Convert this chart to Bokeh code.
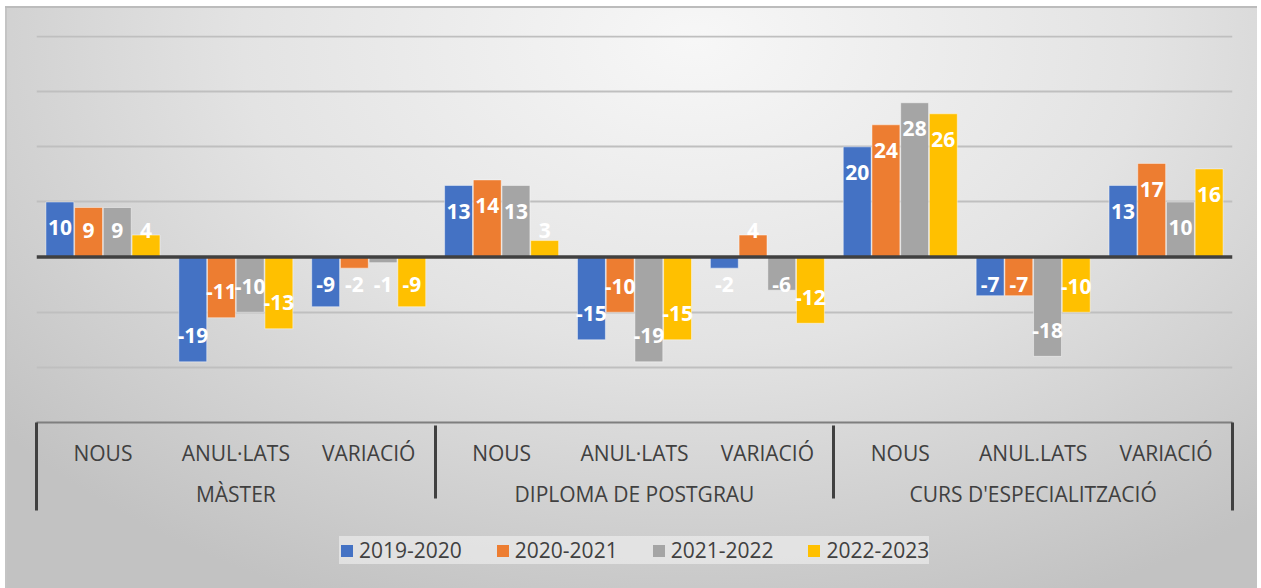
from bokeh.plotting import figure
from bokeh.layouts import column
from bokeh.models import (FactorRange, Span, Legend, LegendItem, ColumnDataSource,
                          CategoricalAxis, Range1d, FixedTicker)
from bokeh.transform import dodge
from bokeh.core.properties import value
from bokeh.embed import file_html
from bokeh.resources import INLINE

# ---- data ----
groups = ["MÀSTER", "DIPLOMA DE POSTGRAU", "CURS D'ESPECIALITZACIÓ"]
subcats = [["NOUS", "ANUL·LATS", "VARIACIÓ"],
           ["NOUS", "ANUL·LATS", "VARIACIÓ"],
           ["NOUS", "ANUL.LATS", "VARIACIÓ"]]
years = ["2019-2020", "2020-2021", "2021-2022", "2022-2023"]
v_2019_2020 = [10, -19, -9, 13, -15, -2, 20, -7, 13]
v_2020_2021 = [9, -11, -2, 14, -10, 4, 24, -7, 17]
v_2021_2022 = [9, -10, -1, 13, -19, -6, 28, -18, 10]
v_2022_2023 = [4, -13, -9, 3, -15, -12, 26, -10, 16]
y_ticks = [-20, -10, 10, 20, 30, 40]

colors = ["#4472C4", "#ED7D31", "#A5A5A5", "#FFC000"]
series = [v_2019_2020, v_2020_2021, v_2021_2022, v_2022_2023]
offsets = [-0.324, -0.108, 0.108, 0.324]

x = [(g, s) for g, subs in zip(groups, subcats) for s in subs]


def label_pos(v):
    return max(v - 4.7, 4.9) if v > 0 else min(v + 4.7, -5.0)


data = {"x": x}
for yr, vals in zip(years, series):
    data[yr] = vals
    data[yr + "_lab"] = [label_pos(v) for v in vals]
    data[yr + "_txt"] = [str(v) for v in vals]
src = ColumnDataSource(data)

p = figure(x_range=FactorRange(factors=x, group_padding=0, factor_padding=0, range_padding=0),
           y_range=Range1d(-30, 40.2), width=1252, height=512,
           output_backend="svg", toolbar_location=None, y_axis_location=None,
           min_border_left=31, min_border_right=25, min_border_top=29, min_border_bottom=96)

p.border_fill_alpha = 0
p.background_fill_alpha = 0
p.outline_line_color = None

p.xgrid.visible = False
p.ygrid.ticker = FixedTicker(ticks=y_ticks)
p.ygrid.grid_line_color = "#bfbfbf"
p.ygrid.grid_line_width = 2

for yr, c, off in zip(years, colors, offsets):
    p.vbar(x=dodge("x", off, range=p.x_range), top=yr, width=0.21, source=src,
           fill_color=c, line_color="white", line_alpha=0.45, line_width=1)

p.add_layout(Span(location=0, dimension="width", line_color="#404040", line_width=3.5))

for yr, off in zip(years, offsets):
    p.text(x=dodge("x", off, range=p.x_range), y=yr + "_lab", text=yr + "_txt", source=src,
           text_font=value("Open Sans"), text_font_style="bold", text_font_size="21px",
           text_color="white", text_align="center", text_baseline="middle")

ax = p.xaxis[0]
ax.axis_line_color = "#7f7f7f"
ax.axis_line_width = 2
ax.major_tick_line_color = None
ax.major_tick_out = 6
ax.major_tick_in = 0
ax.major_label_standoff = 10
ax.major_label_text_font = "Open Sans"
ax.major_label_text_font_size = "21px"
ax.major_label_text_color = "#404040"
ax.group_text_font = "Open Sans"
ax.group_text_font_size = "21px"
ax.group_text_color = "#404040"
ax.group_text_font_style = "normal"
ax.separator_line_color = "#404040"
ax.separator_line_width = 3

# outer edge lines of the category box: ticks of an auxiliary categorical axis whose
# two factors sit (almost exactly) on the frame edges thanks to a huge factor padding
p.extra_x_ranges = {"edge": FactorRange(factors=["L", "R"], factor_padding=2000)}
edge = CategoricalAxis(x_range_name="edge",
                       major_label_text_font_size="1px", major_label_text_alpha=0,
                       major_label_standoff=0,
                       major_tick_out=0, major_tick_in=88, major_tick_line_color="#404040",
                       major_tick_line_width=3, axis_line_color=None, minor_tick_line_color=None)
p.add_layout(edge, "below")

# legend strip below the chart (zero-size swatch renderers only feed the legend glyphs)
lp = figure(width=1252, height=70, output_backend="svg", toolbar_location=None,
            x_range=Range1d(0, 1), y_range=Range1d(0, 1),
            x_axis_location=None, y_axis_location=None, min_border=0)
lp.border_fill_alpha = 0
lp.background_fill_alpha = 0
lp.outline_line_color = None
lp.grid.visible = False
leg_renderers = [lp.vbar(x=[0.5], top=[0], bottom=0, width=0, fill_color=c, line_color=None)
                 for c in colors]

legend = Legend(items=[LegendItem(label=yr, renderers=[r]) for yr, r in zip(years, leg_renderers)],
                orientation="horizontal", location=(303, 24),
                glyph_width=15, glyph_height=15, label_standoff=5, spacing=33,
                label_text_font="Open Sans", label_text_font_size="21px",
                label_text_color="#404040", padding=9, margin=0,
                background_fill_color="#f2f2f2", background_fill_alpha=0.6,
                border_line_color=None)
lp.add_layout(legend)

layout = column(p, lp, spacing=0,
                styles={"margin": "6px 0 0 5px",
                        "background-image": "radial-gradient(ellipse 72% 105% at 55% 6%, #f7f7f7 0%, #e3e3e3 50%, #c2c2c2 100%)",
                        "box-shadow": "inset 0 2px 0 #bcbcbc, inset 2px 0 0 #c4c4c4"})

open("out.html", "w").write(file_html(layout, INLINE))
